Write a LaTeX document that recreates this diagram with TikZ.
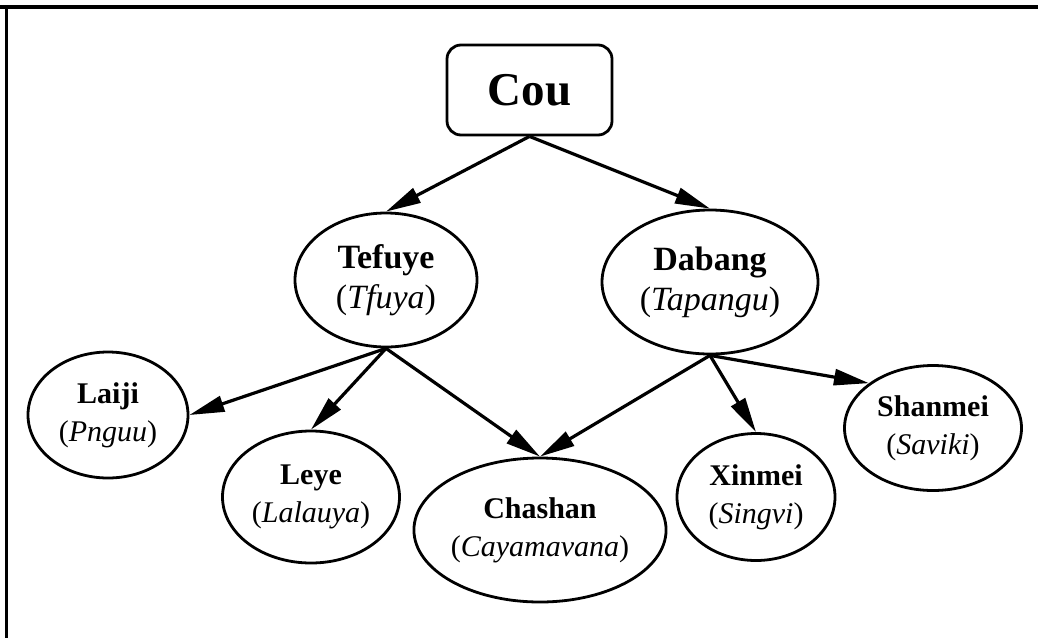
\documentclass[tikz,border=0pt]{standalone}
\usepackage{fontspec}
\setmainfont{Liberation Serif}
\usetikzlibrary{shapes.geometric,arrows.meta}
\begin{document}
\begin{tikzpicture}[x=1pt,y=-1pt,
  tribe/.style={ellipse,draw,line width=2.8pt,inner sep=0pt,align=center},
  toptribe/.style={tribe,font=\fontsize{34}{40}\selectfont},
  subtribe/.style={tribe,font=\fontsize{30}{38}\selectfont},
  link/.style={line width=3.2pt,-{Triangle[length=35pt,width=16pt]}},
  root/.style={draw,rounded corners=14pt,line width=2.8pt,inner sep=0pt,
    minimum width=165pt,minimum height=90pt,
    font=\bfseries\fontsize{47}{50}\selectfont}
]
\useasboundingbox (0,0) rectangle (1038,638);
% frame lines along the top and left edges
\draw[line width=4pt] (0,7) -- (1038,7);
\draw[line width=3.5pt] (6.5,5) -- (6.5,638);

% root
\node[root] (cou) at (529.5,90) {Cou};

% first level
\node[toptribe,minimum width=182pt,minimum height=134pt] (tefuye) at (386,280)
  {\textbf{Tefuye}\\(\textit{Tfuya})};
\node[toptribe,minimum width=216pt,minimum height=144pt] (dabang) at (710,282)
  {\textbf{Dabang}\\(\textit{Tapangu})};

% second level
\node[subtribe,minimum width=160pt,minimum height=126pt] (laiji) at (108,415)
  {\textbf{Laiji}\\(\textit{Pnguu})};
\node[subtribe,minimum width=177pt,minimum height=132pt] (leye) at (311,497)
  {\textbf{Leye}\\(\textit{Lalauya})};
\node[subtribe,minimum width=246pt,minimum height=144pt] (chashan) at (540,530)
  {\textbf{Chashan}\\(\textit{Cayamavana})};
\node[subtribe,minimum width=158pt,minimum height=127pt] (xinmei) at (756,497)
  {\textbf{Xinmei}\\(\textit{Singvi})};
\node[subtribe,minimum width=177pt,minimum height=125pt] (shanmei) at (933,428)
  {\textbf{Shanmei}\\(\textit{Saviki})};

% connectors
\draw[link] (cou.south) -- (tefuye.north);
\draw[link] (cou.south) -- (dabang.north);
\draw[link] (tefuye.south) -- (laiji.east);
\draw[link] (tefuye.south) -- (leye.north);
\draw[link] (tefuye.south) -- (chashan.north);
\draw[link] (dabang.south) -- (chashan.north);
\draw[link] (dabang.south) -- (xinmei.north);
\draw[link] (dabang.south) -- (shanmei.145);
\end{tikzpicture}
\end{document}
